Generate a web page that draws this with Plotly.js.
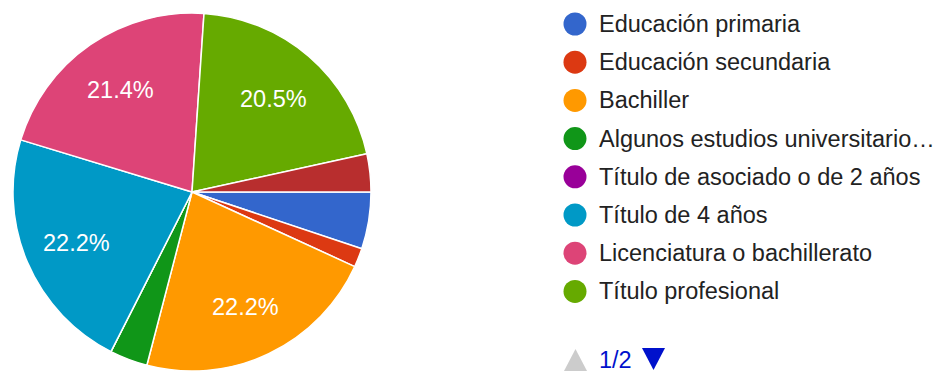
<!DOCTYPE html>
<html>
<head>
<meta charset="utf-8">
<script src="https://cdn.plot.ly/plotly-3.0.1.min.js"></script>
<style>
  html, body { margin: 0; padding: 0; background: #fff; }
  #chart { width: 942px; height: 373px; }
</style>
</head>
<body>
<div id="chart"></div>
<script>
// Nivel educativo de los encuestados (n = 117 respuestas)
const categories = [
  "Educación primaria",
  "Educación secundaria",
  "Bachiller",
  "Algunos estudios universitarios",
  "Título de asociado o de 2 años",
  "Título de 4 años",
  "Licenciatura o bachillerato",
  "Título profesional",
  "Doctorado"
];
const counts = [6, 2, 26, 4, 0, 26, 25, 24, 4];
const colors = ["#3366cc", "#dc3912", "#ff9900", "#109618", "#990099",
                "#0099c6", "#dd4477", "#66aa00", "#b82e2e"];
// Legend page 1 of 2 shows the first eight entries
const legendLabels = [
  "Educación primaria",
  "Educación secundaria",
  "Bachiller",
  "Algunos estudios universitario…",
  "Título de asociado o de 2 años",
  "Título de 4 años",
  "Licenciatura o bachillerato",
  "Título profesional"
];
const pageLabel = "1/2";

const W = 942, H = 373;
const FONT = "Arial, 'Liberation Sans', sans-serif";

// Pie geometry (pixels)
const cx = 192, cy = 192, R = 179;

const trace = {
  type: "pie",
  labels: categories,
  values: counts,
  sort: false,
  direction: "clockwise",
  rotation: 90,
  marker: { colors: colors, line: { color: "#ffffff", width: 1.5 } },
  textinfo: "none",
  hoverinfo: "label+percent",
  showlegend: false,
  domain: { x: [(cx - R) / W, (cx + R) / W], y: [(H - cy - R) / H, (H - cy + R) / H] }
};

const shapes = [];
const annotations = [];

// Percentage labels for the larger slices, placed along each slice's mid-angle
const total = counts.reduce((a, b) => a + b, 0);
let cum = 0;
counts.forEach((c, i) => {
  const frac = c / total;
  const mid = (cum + c / 2) / total * 2 * Math.PI; // clockwise from 3 o'clock
  cum += c;
  if (frac < 0.1) return;
  const r = 0.7 * R;
  const px = cx + r * Math.cos(mid);
  const py = cy + r * Math.sin(mid) + 1.5;
  annotations.push({
    xref: "paper", yref: "paper", x: px / W, y: 1 - py / H,
    xanchor: "center", yanchor: "middle", showarrow: false,
    text: (frac * 100).toFixed(1) + "%",
    font: { family: FONT, size: 23.5, color: "#ffffff" }
  });
});

// Custom legend: coloured dots with labels, then the page indicator
const legX = 575, textX = 596.5, rowY0 = 24, rowStep = 38.2, dotR = 11.5;
legendLabels.forEach((lab, i) => {
  const ry = rowY0 + i * rowStep;
  shapes.push({
    type: "circle", xref: "paper", yref: "paper",
    x0: (legX - dotR) / W, x1: (legX + dotR) / W,
    y0: 1 - (ry + dotR) / H, y1: 1 - (ry - dotR) / H,
    fillcolor: colors[i], line: { width: 0 }
  });
  annotations.push({
    xref: "paper", yref: "paper", x: textX / W, y: 1 - ry / H,
    xanchor: "left", yanchor: "middle", showarrow: false, text: lab,
    font: { family: FONT, size: 23.5, color: "#222222" }
  });
});

// Page arrows
const pgY = 360;
shapes.push({
  type: "path", xref: "paper", yref: "paper",
  path: `M ${564 / W} ${1 - 371 / H} L ${587 / W} ${1 - 371 / H} L ${575.5 / W} ${1 - 349 / H} Z`,
  fillcolor: "#cccccc", line: { width: 0 }
});
shapes.push({
  type: "path", xref: "paper", yref: "paper",
  path: `M ${642 / W} ${1 - 348 / H} L ${665 / W} ${1 - 348 / H} L ${653.5 / W} ${1 - 370 / H} Z`,
  fillcolor: "#0011cc", line: { width: 0 }
});
annotations.push({
  xref: "paper", yref: "paper", x: textX / W, y: 1 - pgY / H,
  xanchor: "left", yanchor: "middle", showarrow: false, text: pageLabel,
  font: { family: FONT, size: 23.5, color: "#0011cc" }
});

const layout = {
  width: W, height: H,
  margin: { l: 0, r: 0, t: 0, b: 0 },
  paper_bgcolor: "#ffffff",
  plot_bgcolor: "#ffffff",
  shapes: shapes,
  annotations: annotations
};

Plotly.newPlot("chart", [trace], layout, { displayModeBar: false, staticPlot: true });
</script>
</body>
</html>
